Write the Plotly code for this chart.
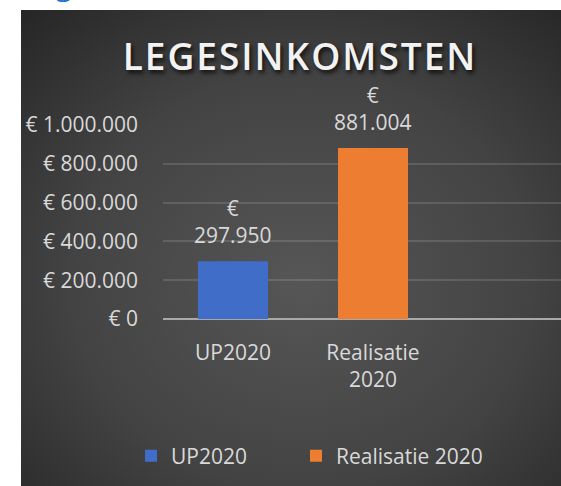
import base64
import plotly.graph_objects as go

# ---- data ----
categories = ["UP2020", "Realisatie 2020"]
category_labels = ["UP2020", "Realisatie<br>2020"]
values = [297950, 881004]
bar_colors = ["#3f6dc8", "#ed7d31"]
ytick_values = [0, 200000, 400000, 600000, 800000, 1000000]
ytick_labels = ["€ 0", "€ 200.000", "€ 400.000", "€ 600.000", "€ 800.000", "€ 1.000.000"]
chart_title = "LEGESINKOMSTEN"
heading_text = "Legesinkomsten"

W, H = 561, 486
ML, MR, MT, MB = 163, 0, 125, 167
PW, PH = W - ML - MR, H - MT - MB
FONT = "Open Sans"
TXT = "#d9d9d9"
legend_x_px = [131, 296]

svg = (
    "<svg xmlns='http://www.w3.org/2000/svg' width='540' height='476' viewBox='0 0 540 476' "
    "preserveAspectRatio='none'><defs><radialGradient id='g' cx='0.52' cy='0.57' r='0.78'>"
    "<stop offset='0' stop-color='#565656'/><stop offset='0.55' stop-color='#434343'/>"
    "<stop offset='1' stop-color='#252525'/></radialGradient></defs>"
    "<rect width='540' height='476' fill='url(#g)'/></svg>"
)
bg_uri = "data:image/svg+xml;base64," + base64.b64encode(svg.encode()).decode()

fig = go.Figure()
for i, (cat, val, col) in enumerate(zip(categories, values, bar_colors)):
    fig.add_trace(go.Bar(x=[cat], y=[val], name=cat, marker=dict(color=col, line=dict(width=0)),
                         width=0.5, hoverinfo="skip",
                         legend="legend" if i == 0 else f"legend{i + 1}"))
    fig.add_annotation(x=cat, y=val, xref="x", yref="y", yanchor="bottom", yshift=10,
                       text="€<br>" + f"{val:,}".replace(",", "."), showarrow=False,
                       font=dict(family=FONT, size=21, color=TXT))

# cut-off document heading above the chart (only its descender is visible)
fig.add_annotation(xref="paper", yref="paper", x=(21 - ML) / PW, y=(H - MB - 6) / PH,
                   text=heading_text, xanchor="left", yanchor="bottom", showarrow=False,
                   font=dict(family=FONT, size=30, color="#1f77d0"))

fig.add_layout_image(dict(source=bg_uri, xref="paper", yref="paper",
                          x=(21 - ML) / PW, y=(H - MB - 10) / PH,
                          sizex=540 / PW, sizey=476 / PH,
                          xanchor="left", yanchor="top", sizing="stretch", layer="below"))

legend_common = dict(orientation="h", xref="container", yref="container", y=1 - 456 / H,
                     xanchor="left", yanchor="middle", font=dict(family=FONT, size=21, color=TXT),
                     bgcolor="rgba(0,0,0,0)")

fig.update_layout(
    width=W, height=H,
    margin=dict(l=ML, r=MR, t=MT, b=MB, pad=0),
    paper_bgcolor="white", plot_bgcolor="rgba(0,0,0,0)",
    barmode="overlay",
    title=dict(text=chart_title, xref="container", yref="container", x=300 / W, y=1 - 57 / H,
               xanchor="center", yanchor="middle",
               font=dict(family=FONT, size=37, color="#f2f2f2", weight=600,
                         shadow="2px 3px 4px rgba(0,0,0,0.75)")),
    font=dict(family=FONT, color=TXT),
    showlegend=True,
    legend=dict(x=legend_x_px[0] / W, **legend_common),
    legend2=dict(x=legend_x_px[1] / W, **legend_common),
    xaxis=dict(type="category", categoryorder="array", categoryarray=categories,
               tickvals=categories, ticktext=category_labels, range=[-0.5, -0.5 + PW / 140],
               showgrid=False, showline=False, zeroline=False, ticks="",
               ticklabelstandoff=19, tickfont=dict(family=FONT, size=21, color=TXT)),
    yaxis=dict(range=[0, 1000000], tickvals=ytick_values, ticktext=ytick_labels,
               showgrid=True, gridcolor="rgba(255,255,255,0.13)", gridwidth=1.5,
               zeroline=True, zerolinecolor="#a9a9a9", zerolinewidth=2,
               showline=False, ticks="", ticklabelstandoff=24,
               tickfont=dict(family=FONT, size=21, color=TXT)),
)

fig.write_html(
    "out.html",
    config={"displayModeBar": False},
    post_script=(
        "document.body.style.margin='0';"
        "document.querySelectorAll('.gtitle').forEach(e=>e.style.letterSpacing='2px');"
    ),
)
